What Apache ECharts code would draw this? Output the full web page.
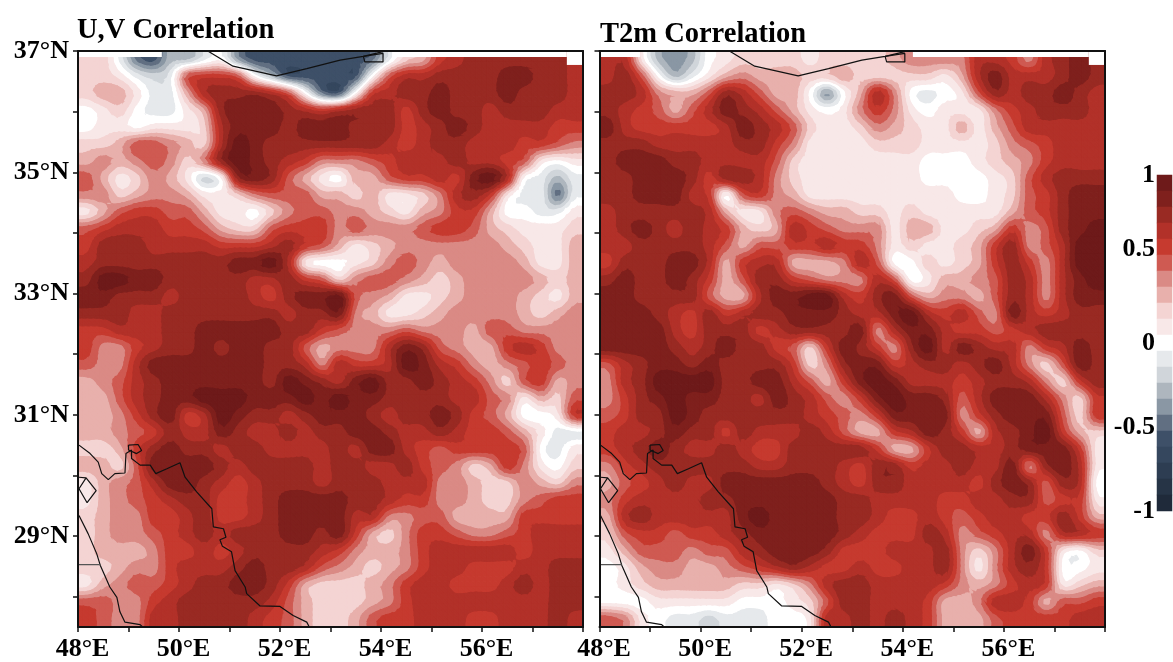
<!DOCTYPE html>
<html><head><meta charset="utf-8">
<style>html,body{margin:0;padding:0;background:#fff}#c{width:1173px;height:662px}</style>
<script src="https://cdn.jsdelivr.net/npm/echarts@6/dist/echarts.min.js"></script>
</head><body><div id="c"></div>
<script>
// correlation values in tenths, rows from north to south, columns from west to east
const uvRows = [
[2,2,-1,-5,-6,-3,-3,-1,0,-4,-6,-6,-6,-6,-6,-6,-6,-5,-1,2,3,6,7,8,8,8,8,8,8,7],
[2,2,1,-1,-2,-1,5,6,6,5,0,-3,-6,-6,-6,-6,-6,0,5,7,7,8,8,8,8,9,9,8,8,7],
[2,3,3,1,-1,-1,3,7,8,8,8,7,5,0,-5,-6,0,6,7,8,8,9,8,8,8,9,8,8,8,7],
[0,1,2,0,-1,-1,1,3,8,9,9,9,8,7,6,7,8,8,8,6,8,9,8,8,7,8,8,8,7,7],
[0,1,1,0,1,1,1,2,7,9,9,9,8,9,9,9,8,8,8,6,7,8,9,8,7,7,7,7,6,6],
[2,2,3,5,5,4,3,2,7,10,9,8,8,8,8,8,8,8,7,6,7,8,8,7,7,7,6,6,5,4],
[3,4,3,4,5,4,2,4,8,10,9,8,7,6,4,4,4,5,6,7,7,7,8,7,7,6,5,1,0,1],
[5,3,1,2,4,3,1,-2,0,8,9,8,5,3,1,0,3,3,5,6,6,7,6,9,10,7,0,-1,-3,-1],
[4,4,2,3,4,4,3,1,1,2,4,5,5,5,3,3,2,3,1,1,2,4,7,8,6,1,-1,-1,-5,-1],
[1,3,5,6,6,5,5,3,1,1,0,2,4,5,5,4,4,3,2,1,3,4,6,6,3,0,0,-1,-1,1],
[5,6,7,7,7,6,6,5,3,2,2,5,6,6,6,4,5,4,4,4,5,6,6,5,3,2,1,1,1,2],
[6,8,8,8,7,7,7,7,6,6,6,7,8,6,5,3,1,2,3,4,4,4,4,4,4,3,2,1,1,3],
[7,8,8,8,8,8,8,8,8,9,9,10,7,1,0,0,1,2,4,5,4,3,4,4,4,4,3,1,1,3],
[8,10,10,9,9,8,8,8,8,8,7,7,8,6,5,2,4,5,5,4,3,2,3,4,4,4,4,3,2,3],
[9,9,8,8,8,7,8,8,8,8,7,6,8,9,9,10,5,4,3,1,1,2,3,4,4,4,3,2,1,3],
[8,8,8,7,7,8,8,8,8,8,8,8,7,8,8,9,4,3,1,1,2,3,4,4,4,4,3,2,3,4],
[6,6,7,7,7,8,8,9,9,9,9,9,8,8,6,5,4,4,4,5,4,4,4,3,5,5,4,4,4,4],
[6,4,4,6,7,8,8,9,8,9,9,8,8,5,3,4,4,4,7,9,8,5,4,3,3,6,7,6,4,4],
[5,4,4,7,9,9,9,9,9,9,9,8,8,7,4,7,6,6,7,10,9,7,6,4,3,4,5,6,5,4],
[3,4,5,7,8,9,9,9,9,9,9,8,10,9,8,7,9,10,8,8,9,8,7,6,4,2,5,6,3,4],
[3,3,5,7,8,9,9,10,10,10,9,9,9,10,9,10,9,9,8,8,8,8,7,7,5,4,1,3,2,5],
[3,3,4,6,8,9,6,7,10,9,8,8,7,8,9,9,9,8,7,8,8,9,8,6,5,3,0,0,1,6],
[3,3,4,5,6,8,7,7,9,8,7,7,8,7,8,8,9,9,8,7,7,8,7,6,6,5,3,1,-1,-1],
[2,2,3,6,8,9,8,8,7,8,8,7,7,7,7,8,7,9,9,7,6,5,6,6,6,6,5,0,-1,1],
[3,3,2,5,9,9,9,9,8,7,8,8,8,8,7,8,8,7,7,8,6,5,4,2,3,6,4,1,0,2],
[1,3,4,5,7,9,9,8,7,6,7,8,8,8,7,8,8,8,7,7,7,4,4,3,2,2,4,3,2,4],
[1,3,4,5,6,7,8,8,6,6,7,8,9,9,9,9,8,8,7,6,6,4,4,3,2,2,4,5,6,6],
[2,3,4,4,6,6,7,8,6,6,7,8,9,9,9,9,7,7,4,4,5,5,3,3,3,3,6,6,6,6],
[2,3,4,4,5,6,7,8,7,8,8,8,9,9,8,9,6,3,2,4,6,6,5,4,4,5,6,7,7,7],
[2,3,3,3,4,6,6,7,6,7,8,8,8,8,7,6,4,3,3,4,6,7,7,7,7,7,6,7,7,7],
[2,2,3,4,4,6,7,7,7,8,9,8,8,7,5,4,3,2,3,4,6,7,7,6,6,6,7,7,8,8],
[1,3,4,5,5,6,7,8,8,9,9,8,6,3,2,2,2,3,4,6,7,7,6,6,6,7,8,7,8,8],
[5,5,4,4,6,7,8,8,8,8,8,7,5,3,2,2,2,3,4,6,7,7,7,7,7,7,7,7,8,8],
[6,5,4,4,7,7,8,8,8,8,7,6,5,3,2,2,3,5,6,6,7,7,7,6,6,7,7,7,8,7]
];
const t2mRows = [
[7,7,1,-3,-4,-3,0,1,2,2,2,2,1,2,2,2,2,3,4,4,4,4,7,7,6,4,7,8,9,8],
[7,8,5,0,-3,-1,1,3,4,3,3,3,2,2,3,2,2,2,2,2,1,3,7,9,7,7,7,8,9,8],
[8,8,7,4,3,3,5,8,7,5,3,3,0,-4,0,3,7,4,0,-1,0,1,5,8,7,8,8,9,8,7],
[8,7,6,5,3,5,7,9,8,7,5,3,1,0,1,4,6,4,1,0,1,1,1,4,6,7,8,8,8,7],
[9,7,6,6,6,6,6,7,9,8,7,5,2,1,1,2,4,3,2,1,1,3,1,3,5,7,7,7,7,7],
[8,8,8,7,7,7,7,7,8,8,6,4,1,1,1,1,2,2,2,1,1,1,1,2,4,5,6,7,7,7],
[8,9,9,9,8,8,7,7,7,7,5,2,1,1,1,1,1,1,1,0,0,0,1,2,3,4,6,7,7,7],
[8,8,9,9,9,8,6,8,8,7,4,2,1,1,1,1,1,1,1,0,0,0,0,1,2,5,7,8,8,8],
[8,8,9,9,9,7,6,0,5,6,4,3,1,1,1,1,1,1,1,1,1,0,0,1,2,5,6,8,9,9],
[7,8,8,8,8,8,7,3,1,1,4,5,4,3,3,2,2,1,2,1,1,1,1,1,3,5,6,8,9,9],
[7,8,9,8,7,8,7,6,3,2,3,7,6,5,4,4,4,1,3,3,1,1,2,3,6,4,5,8,9,10],
[7,7,8,8,8,8,7,5,3,5,5,6,6,7,6,6,4,1,2,1,1,2,3,6,8,4,5,7,10,10],
[6,8,8,8,9,9,7,3,6,7,7,3,3,3,4,7,5,0,0,2,1,2,3,6,8,6,4,7,10,10],
[8,9,8,8,9,8,6,3,5,8,8,6,5,4,4,4,7,5,0,1,3,3,4,5,8,7,4,7,9,10],
[9,9,8,8,8,8,5,3,3,7,9,9,10,10,7,6,8,9,5,3,4,4,3,5,8,7,4,7,9,9],
[9,9,9,8,7,6,8,6,7,8,8,9,9,9,8,7,7,9,10,7,6,7,5,4,9,7,6,7,8,8],
[9,9,9,9,7,6,8,8,8,6,7,8,8,8,8,9,4,7,9,9,7,6,6,5,6,7,8,8,8,8],
[9,9,9,9,8,7,8,9,8,8,6,5,2,6,9,8,6,4,8,10,7,9,8,7,7,4,6,7,9,8],
[5,7,8,9,9,8,9,8,8,8,8,6,2,4,8,9,9,6,7,8,8,7,8,9,7,4,2,5,9,8],
[4,7,8,10,10,10,10,8,8,9,9,7,5,3,6,9,10,9,7,7,7,6,7,8,8,7,4,2,6,8],
[4,6,8,9,10,9,9,8,8,7,9,8,7,5,4,6,9,10,9,9,8,5,7,9,9,9,7,4,2,6],
[5,6,8,8,10,9,8,8,8,8,8,8,7,6,5,4,6,9,9,9,9,4,6,8,9,9,9,5,2,6],
[6,7,7,8,9,8,8,6,8,7,7,7,8,7,5,3,3,6,7,9,8,6,3,7,8,9,10,6,3,2],
[6,7,8,9,8,7,7,8,7,6,6,8,8,8,8,8,6,3,3,6,8,8,7,7,8,9,9,9,6,1],
[4,6,7,8,8,8,8,8,8,7,7,8,8,8,7,6,8,8,6,7,7,8,7,7,9,4,8,9,7,1],
[3,5,6,7,8,7,7,9,9,9,9,9,9,8,7,6,8,8,7,7,7,7,6,8,9,8,5,8,7,0],
[4,6,7,7,7,7,8,8,9,9,9,9,9,9,8,8,7,7,7,7,6,6,7,7,8,8,5,6,6,1],
[3,7,8,7,7,7,7,7,9,10,9,9,9,9,8,8,7,6,6,7,6,5,6,7,7,6,6,8,6,3],
[2,5,6,6,5,6,6,7,8,9,9,9,9,9,8,7,6,6,6,8,7,4,5,6,7,7,4,7,7,6],
[1,3,5,5,5,4,5,5,7,8,9,9,9,8,6,6,6,7,7,7,8,4,2,4,7,9,6,1,0,2],
[0,1,3,4,4,3,3,4,5,6,7,8,7,6,6,7,6,6,7,7,8,4,1,4,7,8,6,0,0,1],
[0,1,2,3,3,3,3,3,2,2,1,2,4,7,8,8,7,7,7,7,6,4,3,4,6,7,6,1,2,3],
[0,0,0,1,1,1,1,1,0,0,0,1,2,5,8,8,7,7,7,6,3,3,4,7,7,6,3,5,5,6],
[5,4,1,0,-1,-1,-2,-1,-1,-1,0,0,1,7,7,8,7,8,7,6,3,3,3,5,6,6,6,6,7,7]
];
// colour scale, one entry per contour level in tenths
const levelValues = [10,9,8,7,6,5,4,3,2,1,0,-1,-2,-3,-4,-5,-6,-7,-8,-9,-10];
const levelColors = ['#6e1a1a','#7f201d','#992a23','#b23129','#c63a2f','#cf5a52','#da8a85','#e8b0ac','#f4d4d3','#f8e8e8','#ffffff',
  '#e6e9ec','#d0d5da','#aeb6be','#8a97a4','#616f82','#3e5068','#35475e','#2d3d52','#263446','#1f2a3a'];
const lonTicks = [48,50,52,54,56];
const latLabels = [29,31,33,35,37];
const latTicks = [28,29,30,31,32,33,34,35,36,37];
const barLabelValues = [-1,-0.5,0,0.56,1];
const barLabelTexts = {'-1':'-1','-0.5':'-0.5','0':'0','0.56':'0.5','1':'1'};
// coastlines and borders as [lon, lat]
const gulfCoast = [[48.02,30.5],[48.24,30.36],[48.4,30.22],[48.47,30.03],[48.6,29.93],[48.73,30.03],[48.93,30.04],[48.95,30.36],[49.06,30.42],[49.06,30.28],[49.23,30.17],[49.43,30.17],[49.54,30.03],[49.76,30.11],[50.02,30.21],[50.12,29.97],[50.35,29.73],[50.65,29.45],[50.68,29.15],[50.88,29.12],[50.93,28.98],[50.81,28.94],[50.86,28.83],[51.04,28.74],[51.11,28.43],[51.31,28.16],[51.34,28.05],[51.6,27.85],[52,27.84],[52.26,27.69],[52.53,27.58],[52.58,27.5]];
const arabianCoast = [[48.02,29.34],[48.2,29.04],[48.37,28.71],[48.44,28.52],[48.53,28.35],[48.63,28.16],[48.77,27.99],[48.83,27.75],[48.93,27.58],[49.23,27.54],[49.28,27.5]];
const bubiyanIsland = [[48.02,29.97],[48.16,29.96],[48.36,29.75],[48.18,29.55],[48.02,29.78],[48.16,29.96]];
const shatIslet = [[49,30.5],[49.19,30.51],[49.26,30.41],[49.16,30.36],[49,30.42],[49,30.5]];
const caspianCoast = [[50.57,37],[51.07,36.75],[51.93,36.59],[52.53,36.71],[53.19,36.85],[53.65,36.91],[54.04,36.99]];
const caspianLoop = [[53.65,36.91],[54.04,36.96],[54.04,36.82],[53.68,36.82],[53.65,36.91]];
const kuwaitBorder = [[48,28.53],[48.44,28.53]];
// strips without data along the top edge: [lonStart, lonEnd, latBottom]
const uvNoData = [[48,49.66,36.9],[54.22,57.68,36.9],[57.68,58,36.77]];
const t2mNoData = [[48,48.8,36.9],[54.2,57.68,36.9],[57.68,58,36.77]];

const serif = '"Liberation Serif","Times New Roman",serif';
const tickFont = {fontFamily:serif,fontWeight:'bold',fontSize:26,color:'#000'};
const colorOf = {};
levelValues.forEach((v,i)=>{colorOf[v]=levelColors[i];});

// Contour fill: each read value sits at the centre of its cell; the bands are traced
// across a finer drawing mesh, so every band edge comes from the rows above.
const LON0=48,LON1=58,LAT1=37,LAT0=27.5,SUB=3;
function cr(p0,p1,p2,p3,t){return .5*((2*p1)+(p2-p0)*t+(2*p0-5*p1+4*p2-p3)*t*t+(3*p1-p0-3*p2+p3)*t*t*t);}
function buildBands(rows){
  const nr=rows.length,nc=rows[0].length;
  const at=(i,j)=>rows[Math.max(0,Math.min(nr-1,j))][Math.max(0,Math.min(nc-1,i))];
  const sample=(u,v)=>{
    const i=Math.floor(u),j=Math.floor(v),tu=u-i,tv=v-j,col=[];
    for(let m=-1;m<=2;m++)col.push(cr(at(i-1,j+m),at(i,j+m),at(i+1,j+m),at(i+2,j+m),tu));
    return Math.max(-10,Math.min(10,cr(col[0],col[1],col[2],col[3],tv)));
  };
  const node=[];
  for(let l=0;l<=nr*SUB;l++){const r=[];for(let k=0;k<=nc*SUB;k++){
    const u=-.5+k/SUB,v=-.5+l/SUB;
    r.push([LON0+(u+.5)*(LON1-LON0)/nc,LAT1-(v+.5)*(LAT1-LAT0)/nr,sample(u,v)]);}
    node.push(r);}
  const bands={};
  const add=(a,b,c)=>{const lo=Math.round(Math.min(a[2],b[2],c[2])),hi=Math.round(Math.max(a[2],b[2],c[2]));
    for(let q=lo;q<=hi;q++){(bands[q]=bands[q]||[]).push([a,b,c,q===lo]);}};
  for(let l=0;l<nr*SUB;l++)for(let k=0;k<nc*SUB;k++){
    add(node[l][k],node[l][k+1],node[l+1][k+1]);add(node[l][k],node[l+1][k+1],node[l+1][k]);}
  return bands;
}
function clipAbove(poly,t){
  const out=[];
  for(let k=0;k<poly.length;k++){
    const p=poly[k],q=poly[(k+1)%poly.length];
    const pin=p[2]>=t,qin=q[2]>=t;
    if(pin)out.push(p);
    if(pin!==qin){const f=(t-p[2])/(q[2]-p[2]);out.push([p[0]+f*(q[0]-p[0]),p[1]+f*(q[1]-p[1]),t]);}
  }
  return out;
}
const bandRenderer = bands => (params,api) => {
  const level=api.value(0),list=bands[level]||[],col=colorOf[level],children=[];
  list.forEach(t=>{
    const tri=[t[0],t[1],t[2]];
    const poly=t[3]?tri:clipAbove(tri,level-.5);
    if(poly.length<3)return;
    children.push({type:'polygon',shape:{points:poly.map(p=>api.coord([p[0],p[1]]))},style:{fill:col,stroke:col,lineWidth:1.3},silent:true});
  });
  return {type:'group',children:children};
};

const panels = [{left:78,width:505},{left:599.5,width:505.5}];
const grids = panels.map(p=>({left:p.left,width:p.width,top:51,height:576}))
  .concat([{left:1157,width:15,top:175,height:336},{left:1157,width:15,top:175,height:336}]);

const frameLine = {show:true,onZero:false,lineStyle:{color:'#111',width:2}};
const bottomAxis = g => ({type:'value',gridIndex:g,min:48,max:58,interval:2,z:10,position:'bottom',axisLine:frameLine,splitLine:{show:false},
   axisTick:{length:5,lineStyle:{color:'#111',width:1.5}},minorTick:{show:true,splitNumber:2,length:5,lineStyle:{color:'#111',width:1.5}},
   axisLabel:Object.assign({margin:9,showMaxLabel:false,formatter:v=>lonTicks.includes(v)?v+'°E':'',padding:[0,0,0,9]},tickFont)});
const topAxis = g => ({type:'value',gridIndex:g,min:48,max:58,interval:2,z:10,position:'top',axisLine:frameLine,axisTick:{show:false},axisLabel:{show:false},splitLine:{show:false}});
const rightAxis = g => ({type:'value',gridIndex:g,min:27.5,max:37,z:10,position:'right',axisLine:frameLine,axisTick:{show:false},axisLabel:{show:false},splitLine:{show:false}});
const latTick = {length:5,customValues:latTicks,lineStyle:{color:'#111',width:1.5}};
const xAxes = [bottomAxis(0),bottomAxis(1),topAxis(0),topAxis(1),
  {type:'category',gridIndex:2,data:['0'],show:false,boundaryGap:true},
  {type:'value',gridIndex:3,min:0,max:1,show:false}];
const yAxes = [
  {type:'value',gridIndex:0,min:27.5,max:37,z:10,position:'left',axisLine:frameLine,splitLine:{show:false},axisTick:latTick,
   axisLabel:Object.assign({margin:9,customValues:latLabels,verticalAlignMaxLabel:'middle',formatter:v=>v+'°N'},tickFont)},
  {type:'value',gridIndex:1,min:27.5,max:37,z:10,position:'left',axisLine:frameLine,splitLine:{show:false},axisTick:latTick,axisLabel:{show:false}},
  rightAxis(0),rightAxis(1),
  {type:'category',gridIndex:2,data:levelValues.map(String),show:false,boundaryGap:true,inverse:true},
  {type:'value',gridIndex:3,min:-1,max:1,position:'left',z:10,axisLine:{show:false},axisTick:{show:false},splitLine:{show:false},
   axisLabel:Object.assign({margin:2,customValues:barLabelValues,verticalAlignMaxLabel:'middle',verticalAlignMinLabel:'middle',formatter:v=>barLabelTexts[String(v)]},tickFont)}
];

const ascending = levelValues.slice().reverse();
const contour = (ai,rows) => ({type:'custom',xAxisIndex:ai,yAxisIndex:ai,data:ascending.map(v=>[v]),renderItem:bandRenderer(buildBands(rows)),encode:{x:[],y:[]},z:2,animation:false,silent:true,clip:true,progressive:0});
const line = (ai,pts,color,w) => ({type:'line',xAxisIndex:ai,yAxisIndex:ai,data:pts,showSymbol:false,symbol:'none',smooth:false,z:6,animation:false,silent:true,clip:true,lineStyle:{color:color||'#111',width:w||1.2}});
const masked = (ai,strips) => Object.assign(line(ai,[]),{markArea:{z:5,silent:true,animation:false,itemStyle:{color:'#fff',borderWidth:0},label:{show:false},
  data:strips.map(s=>[{coord:[s[0],37]},{coord:[s[1],s[2]]}])}});
const coast = ai => [line(ai,gulfCoast),line(ai,arabianCoast),line(ai,bubiyanIsland),line(ai,shatIslet),line(ai,caspianCoast),line(ai,caspianLoop),line(ai,kuwaitBorder,'#555',1.2)];

const option = {
  backgroundColor:'#fff',
  animation:false,
  title:[
    {text:'U,V Correlation',left:72,top:11,textStyle:{fontFamily:serif,fontWeight:'bold',fontSize:28.5,color:'#000'}},
    {text:'T2m Correlation',left:595,top:15,textStyle:{fontFamily:serif,fontWeight:'bold',fontSize:28.5,color:'#000'}}
  ],
  grid:grids,xAxis:xAxes,yAxis:yAxes,
  visualMap:{type:'piecewise',show:false,dimension:2,seriesIndex:[2],
    pieces:levelValues.map((v,i)=>({min:(v-0.5)/10,max:(v+0.5)/10,color:levelColors[i]}))},
  series:[
    contour(0,uvRows),
    contour(1,t2mRows),
    {type:'heatmap',xAxisIndex:4,yAxisIndex:4,data:levelValues.map((v,i)=>[0,i,v/10]),itemStyle:{borderWidth:0},emphasis:{disabled:true},silent:true,animation:false},
    masked(0,uvNoData),masked(1,t2mNoData),
    ...coast(0),...coast(1)
  ]
};
echarts.init(document.getElementById('c'),null,{renderer:'canvas'}).setOption(option);
</script></body></html>
